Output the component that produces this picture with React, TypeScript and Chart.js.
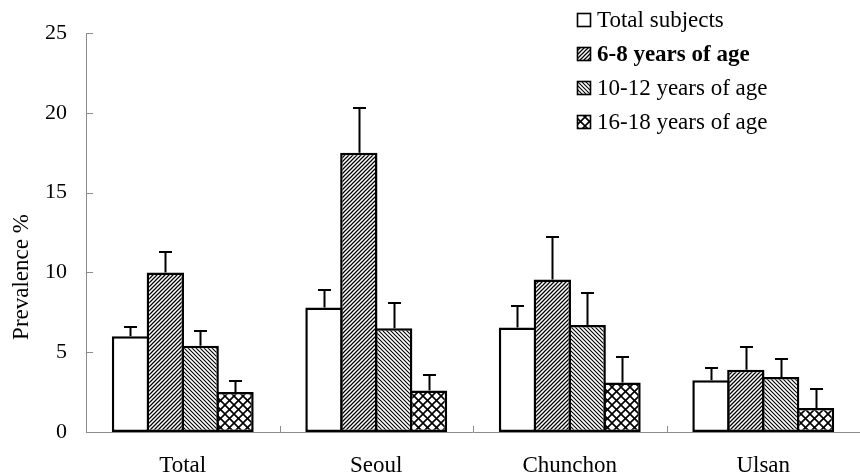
import { useEffect, useRef } from 'react';
import { Chart, registerables } from 'chart.js';

Chart.register(...registerables);

const categories = ['Total', 'Seoul', 'Chunchon', 'Ulsan'];
const seriesNames = ['Total subjects', '6-8 years of age', '10-12 years of age', '16-18 years of age'];
const totalSubjects = [6.0, 7.8, 6.55, 3.25];
const age6to8 = [10.0, 17.5, 9.55, 3.9];
const age10to12 = [5.4, 6.5, 6.7, 3.45];
const age16to18 = [2.5, 2.6, 3.1, 1.5];
const errTotal = [0.6, 1.1, 1.35, 0.75];
const err6to8 = [1.3, 2.8, 2.65, 1.4];
const err10to12 = [0.9, 1.6, 2.0, 1.15];
const err16to18 = [0.7, 1.0, 1.6, 1.2];
const yTicks = [0, 5, 10, 15, 20, 25];
const yTitle = 'Prevalence %';

const FONT = '"Liberation Serif", "Times New Roman", serif';

function makePattern(kind: string): CanvasPattern | string {
  if (kind === 'none') return '#ffffff';
  const s = kind === 'cross' ? 9 : 4;
  const c = document.createElement('canvas');
  c.width = s;
  c.height = s;
  const g = c.getContext('2d') as CanvasRenderingContext2D;
  g.fillStyle = '#ffffff';
  g.fillRect(0, 0, s, s);
  g.strokeStyle = '#000000';
  g.lineWidth = kind === 'cross' ? 1.6 : kind === 'fwd' ? 1.25 : 1.1;
  const fwd = () => {
    g.beginPath();
    g.moveTo(-1, s + 1); g.lineTo(s + 1, -1);
    g.moveTo(-s - 1, s + 1); g.lineTo(1, -1);
    g.moveTo(s - 1, s + 1); g.lineTo(2 * s + 1, -1);
    g.stroke();
  };
  const back = () => {
    g.beginPath();
    g.moveTo(-1, -1); g.lineTo(s + 1, s + 1);
    g.moveTo(-s - 1, -1); g.lineTo(1, s + 1);
    g.moveTo(s - 1, -1); g.lineTo(2 * s + 1, s + 1);
    g.stroke();
  };
  if (kind === 'fwd') fwd();
  if (kind === 'back') back();
  if (kind === 'cross') { fwd(); back(); }
  return g.createPattern(c, 'repeat') as CanvasPattern;
}

export default function App() {
  const ref = useRef<HTMLCanvasElement | null>(null);

  useEffect(() => {
    const canvas = ref.current;
    if (!canvas) return;
    Chart.defaults.font.family = FONT;
    const fills = [makePattern('none'), makePattern('fwd'), makePattern('back'), makePattern('cross')];
    const values = [totalSubjects, age6to8, age10to12, age16to18];
    const errors = [errTotal, err6to8, err10to12, err16to18];

    const errorBars = {
      id: 'errorBars',
      afterDatasetsDraw(chart: any) {
        const ctx = chart.ctx;
        const yScale = chart.scales.y;
        ctx.save();
        ctx.strokeStyle = '#000';
        ctx.lineWidth = 2;
        chart.data.datasets.forEach((ds: any, i: number) => {
          const meta = chart.getDatasetMeta(i);
          meta.data.forEach((bar: any, j: number) => {
            const v = ds.data[j];
            const e = errors[i][j];
            const x = Math.round(bar.x) + 0.5;
            const yTop = yScale.getPixelForValue(v);
            const yErr = Math.round(yScale.getPixelForValue(v + e));
            ctx.beginPath();
            ctx.moveTo(x, yTop);
            ctx.lineTo(x, yErr);
            ctx.moveTo(x - 6.5, yErr);
            ctx.lineTo(x + 6.5, yErr);
            ctx.stroke();
          });
        });
        ctx.restore();
      },
    };

    const decorations = {
      id: 'decorations',
      afterDraw(chart: any) {
        const ctx = chart.ctx;
        const xs = chart.scales.x;
        const ys = chart.scales.y;
        const area = chart.chartArea;
        ctx.save();
        // inner ticks on y axis
        ctx.strokeStyle = '#8c8c8c';
        ctx.lineWidth = 1;
        yTicks.forEach((v) => {
          if (v === 0) return;
          const y = Math.round(ys.getPixelForValue(v)) + 0.5;
          ctx.beginPath();
          ctx.moveTo(area.left, y);
          ctx.lineTo(area.left + 7, y);
          ctx.stroke();
        });
        // inner ticks on x axis at category boundaries
        for (let i = 0; i < categories.length - 1; i++) {
          const xb = Math.round((xs.getPixelForValue(i) + xs.getPixelForValue(i + 1)) / 2) + 0.5;
          ctx.beginPath();
          ctx.moveTo(xb, area.bottom);
          ctx.lineTo(xb, area.bottom - 6);
          ctx.stroke();
        }
        // y title
        ctx.fillStyle = '#000';
        ctx.font = '23px ' + FONT;
        ctx.textAlign = 'center';
        ctx.textBaseline = 'middle';
        ctx.translate(22, 277);
        ctx.rotate(-Math.PI / 2);
        ctx.fillText(yTitle, 0, 0);
        ctx.setTransform(1, 0, 0, 1, 0, 0);
        // legend
        const rows = [20, 54, 88, 122];
        seriesNames.forEach((name, i) => {
          const cy = rows[i];
          ctx.fillStyle = fills[i] as any;
          ctx.fillRect(577, cy - 7, 14, 14);
          ctx.strokeStyle = '#000';
          ctx.lineWidth = 1.6;
          ctx.strokeRect(577.5, cy - 6.5, 13, 13);
          ctx.fillStyle = '#000';
          ctx.font = (i === 1 ? 'bold ' : '') + '23px ' + FONT;
          ctx.textAlign = 'left';
          ctx.textBaseline = 'middle';
          ctx.fillText(name, 597, cy + 1);
        });
        ctx.restore();
      },
    };

    const chart = new Chart(canvas, {
      type: 'bar',
      data: {
        labels: categories,
        datasets: seriesNames.map((name, i) => ({
          label: name,
          data: values[i],
          backgroundColor: fills[i] as any,
          borderColor: '#000000',
          borderWidth: 2.5,
          borderSkipped: false,
          barPercentage: 1.0712,
          categoryPercentage: 0.7205,
        })),
      },
      options: {
        responsive: false,
        animation: false,
        devicePixelRatio: 1,
        layout: { padding: { top: 33, right: -6, bottom: 0, left: 0 } },
        plugins: {
          legend: { display: false },
          tooltip: { enabled: false },
        },
        scales: {
          x: {
            type: 'category',
            offset: true,
            grid: { display: false, drawTicks: false },
            border: { display: true, color: '#8c8c8c', width: 1 },
            ticks: { color: '#000', font: { size: 23, family: FONT }, padding: 20, maxRotation: 0 },
            afterFit: (s: any) => { s.height = 43; },
          },
          y: {
            min: 0,
            max: 25,
            grid: { display: false, drawTicks: false },
            border: { display: true, color: '#8c8c8c', width: 1 },
            ticks: { color: '#000', font: { size: 22, family: FONT }, padding: 19, stepSize: 5 },
            afterBuildTicks: (s: any) => { s.ticks = yTicks.map((v) => ({ value: v })); },
            afterFit: (s: any) => { s.width = 86; },
          },
        },
      },
      plugins: [errorBars, decorations],
    });
    return () => chart.destroy();
  }, []);

  return (
    <div style={{ position: 'fixed', left: 0, top: 0, width: 860, height: 475, background: '#fff' }}>
      <canvas ref={ref} width={860} height={475} style={{ display: 'block' }} />
    </div>
  );
}
